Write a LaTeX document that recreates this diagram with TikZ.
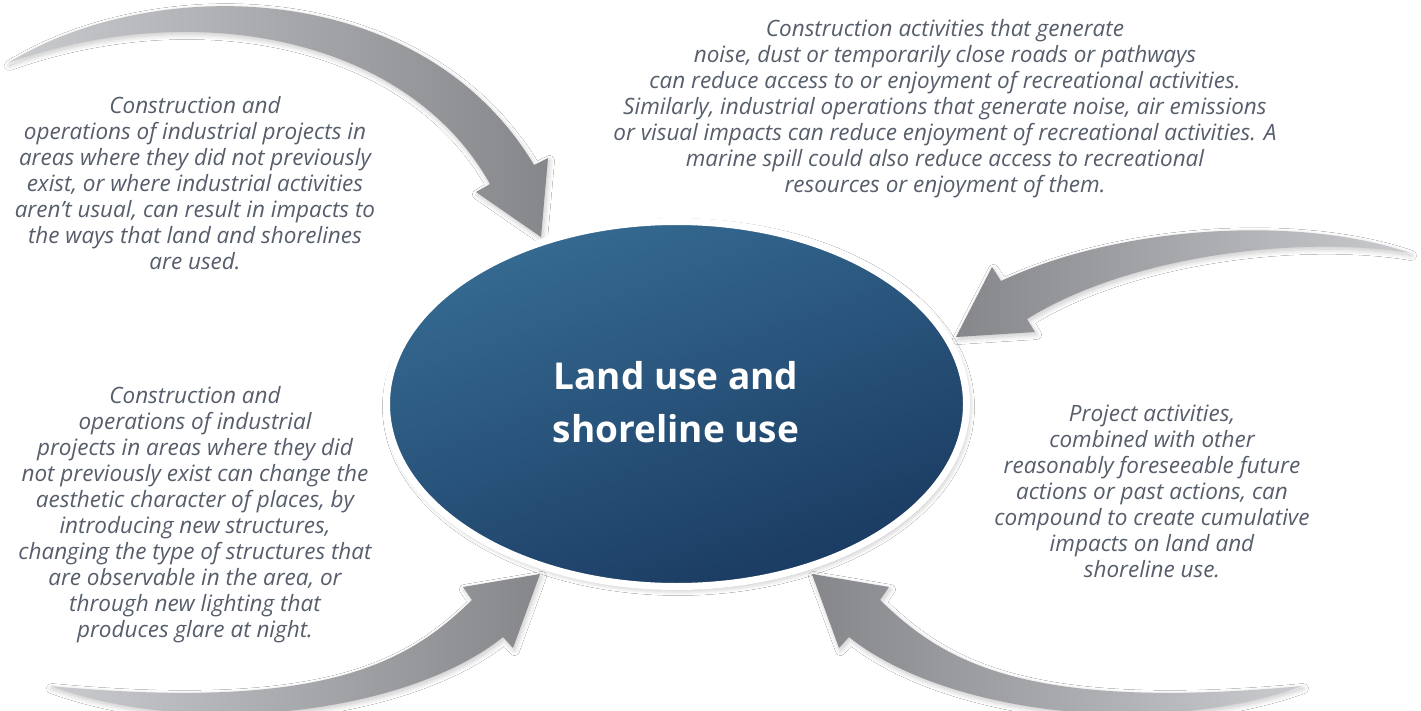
\documentclass[tikz,border=0pt]{standalone}
\usepackage{fontspec}
\setmainfont{Open Sans}
\usetikzlibrary{shapes.geometric,shadows.blur}
\definecolor{arrowdark}{HTML}{86878B}
\definecolor{arrowlight}{HTML}{CACBCE}
\definecolor{ellTop}{HTML}{366B92}
\definecolor{ellBot}{HTML}{1A3A61}
\definecolor{txtgray}{HTML}{575E6B}
\tikzset{
  arrshadow/.style={blur shadow={shadow blur steps=10, shadow xshift=1.5pt, shadow yshift=-2.5pt, shadow blur radius=5pt, shadow opacity=22}},
  fatarrowR/.style={arrshadow, left color=arrowlight, right color=arrowdark, draw=none},
  fatarrowL/.style={arrshadow, left color=arrowdark, right color=arrowlight, draw=none},
  txt/.style={align=center, text=txtgray, font=\fontsize{22.5}{26}\selectfont\itshape, inner sep=0pt},
  hub/.style={ellipse, draw=white, line width=7pt, minimum width=580pt, minimum height=365pt, inner sep=0pt,
    top color=ellTop, bottom color=ellBot, shading angle=20,
    blur shadow={shadow blur steps=12, shadow xshift=2pt, shadow yshift=-3pt, shadow blur radius=6pt, shadow opacity=30}},
  hubtxt/.style={align=center, text=white, font=\fontsize{37}{53}\selectfont\bfseries, inner sep=0pt}
}
\begin{document}
\begin{tikzpicture}[x=1pt,y=-1pt]
\useasboundingbox (0,0) rectangle (1421,711);
\fill[white] (0,0) rectangle (1421,711);

% arrows
\path[fatarrowR] (8,63) .. controls (150,-25) and (420,-25) .. (534,165) -- (548,158) -- (541,237) -- (476,192) -- (490,184) .. controls (410,40) and (200,-5) .. (8,63) -- cycle;
\path[fatarrowL] (1410,253) .. controls (1300,215) and (1120,225) .. (1001,281) -- (992,267) -- (956,337) -- (1035,332) -- (1027,319) .. controls (1130,255) and (1300,235) .. (1410,253) -- cycle;
\path[fatarrowR] (50,686) .. controls (200,740) and (410,712) .. (503,637) -- (513,648) -- (540,574) -- (463,587) -- (472,600) .. controls (410,660) and (330,712) .. (50,686) -- cycle;
\path[fatarrowL] (1302,686) .. controls (1152,740) and (942,712) .. (849,637) -- (839,648) -- (812,574) -- (889,587) -- (880,600) .. controls (942,660) and (1022,712) .. (1302,686) -- cycle;

% hub
\node[hub] (hub) at (676.5,404) {};
\node[hubtxt] (title) at (676,402) {Land use and\\shoreline use};

% texts
\node[txt] (tl) at (195,183) {Construction and\\operations of industrial projects in\\areas where they did not previously\\exist, or where industrial activities\\aren’t usual, can result in impacts to\\the ways that land and shorelines\\are used.};
\node[txt] (bl) at (195,515) {Construction and\\operations of industrial\\projects in areas where they did\\not previously exist can change the\\aesthetic character of places, by\\introducing new structures,\\changing the type of structures that\\are observable in the area, or\\through new lighting that\\produces glare at night.};
\node[txt] (tr) at (945,109) {Construction activities that generate\\noise, dust or temporarily close roads or pathways\\can reduce access to or enjoyment of recreational activities.\\Similarly, industrial operations that generate noise, air emissions\\or visual impacts can reduce enjoyment of recreational activities. A\\marine spill could also reduce access to recreational\\resources or enjoyment of them.};
\node[txt] (br) at (1152,491) {Project activities,\\combined with other\\reasonably foreseeable future\\actions or past actions, can\\compound to create cumulative\\impacts on land and\\shoreline use.};
\end{tikzpicture}
\end{document}
